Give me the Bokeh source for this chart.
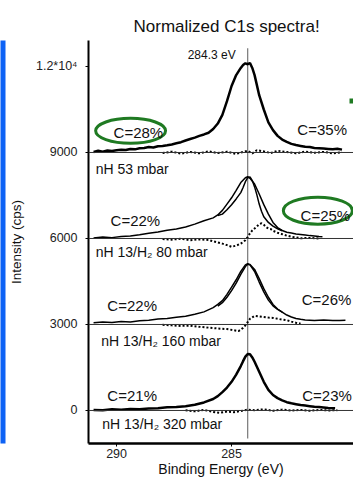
from bokeh.plotting import figure
from bokeh.models import Range1d, FixedTicker, Span, Label, ColorBar, LinearColorMapper
from bokeh.embed import file_html
from bokeh.resources import INLINE

# ---------------- data ----------------
title_text = "Normalized C1s spectra!"
y_ticks = [0, 3000, 6000, 9000, 12000]
y_tick_labels = ["0", "3000", "6000", "9000", "1.2*10⁴"]
x_ticks = [290, 285]
x_tick_labels = ["290", "285"]
peak_energy = [284.3]
peak_label = "284.3 eV"
offsets = [9000, 6000, 3000, 0]
sample_names = ["nH 53 mbar", "nH 13/H₂ 80 mbar", "nH 13/H₂ 160 mbar", "nH 13/H₂ 320 mbar"]
left_percent = ["C=28%", "C=22%", "C=22%", "C=21%"]
right_percent = ["C=35%", "C=25%", "C=26%", "C=23%"]

# spectrum 1 : nH 53 mbar (height above its baseline, cps)
e1 = [291.0, 290.8, 290.6, 290.4, 290.2, 290.0, 289.8, 289.6, 289.4, 289.2, 289.0, 288.8, 288.6, 288.4,
      288.2, 288.0, 287.8, 287.6, 287.4, 287.2, 287.0, 286.8, 286.6, 286.4, 286.2, 286.0, 285.8, 285.6,
      285.4, 285.2, 285.0, 284.8, 284.6, 284.5, 284.4, 284.3, 284.2, 284.1, 284.0, 283.9, 283.8, 283.6,
      283.4, 283.2, 283.0, 282.8, 282.6, 282.4, 282.2, 282.0, 281.8, 281.6, 281.4, 281.2, 281.0, 280.8,
      280.6, 280.4, 280.2]
h1 = [20, 60, 30, 70, 55, 80, 95, 85, 120, 110, 150, 160, 190, 175,
      215, 225, 250, 280, 320, 360, 420, 470, 520, 580, 630, 690, 820, 1010,
      1310, 1790, 2320, 2700, 2950, 3050, 3110, 3080, 3120, 2950, 2700, 2350, 2000, 1500,
      1050, 780, 580, 450, 370, 300, 260, 230, 200, 190, 160, 150, 140, 125,
      110, 130, 100]
d1e = [288.0, 287.6, 287.2, 286.8, 286.4, 286.0, 285.6, 285.2, 284.8, 284.5, 284.3, 284.1, 283.9, 283.6,
       283.3, 283.0, 282.6, 282.2, 281.8, 281.4, 281.0, 280.6, 280.2]
d1 = [-20, 30, -40, 20, -30, 40, -20, 30, -50, 20, 60, -30, 80, 40,
      -20, 60, 20, -30, 30, -10, 20, -30, 10]

# spectrum 2 : nH 13/H2 80 mbar
e2a = [291.0, 290.6, 290.2, 289.8, 289.4, 289.0, 288.6, 288.2, 287.8, 287.4, 287.0, 286.6, 286.2, 285.8,
       285.6, 285.4, 285.2, 285.0, 284.8, 284.6, 284.4, 284.3, 284.2, 284.0, 283.8, 283.6, 283.4, 283.2,
       283.0, 282.8, 282.6, 282.4, 282.2, 282.0, 281.8, 281.6, 281.4, 281.2, 281.05]
h2a = [20, 50, 30, 70, 90, 130, 180, 230, 290, 330, 400, 500, 620, 720,
       820, 980, 1200, 1420, 1680, 1950, 2120, 2160, 2100, 1900, 1550, 1180, 850, 560,
       380, 280, 220, 190, 160, 140, 120, 100, 90, 70, 60]
e2b = [285.6, 285.4, 285.2, 285.0, 284.8, 284.6, 284.5, 284.4, 284.3, 284.2, 284.1, 284.0, 283.9, 283.8,
       283.7, 283.6, 283.4, 283.2, 283.0, 282.8]
h2b = [800, 850, 1000, 1180, 1380, 1600, 1780, 1980, 2120, 2150, 2020, 1800, 1520, 1200,
       950, 760, 560, 430, 340, 270]
d2e = [288.0, 287.6, 287.2, 286.8, 286.4, 286.0, 285.8, 285.6, 285.4, 285.2, 285.0, 284.8, 284.6, 284.5,
       284.4, 284.3, 284.2, 284.1, 284.0, 283.9, 283.8, 283.7, 283.6, 283.5, 283.4, 283.3, 283.2, 283.0,
       282.8, 282.6, 282.4, 282.2, 282.0, 281.6, 281.2]
d2 = [-20, -40, -10, -60, -30, -50, -100, -140, -180, -230, -290, -250, -180, -120,
      -60, 50, 180, 280, 350, 420, 500, 530, 480, 400, 350, 330, 270, 200,
      150, 100, 60, 40, 10, 20, 0]

# spectrum 3 : nH 13/H2 160 mbar
e3a = [291.0, 290.6, 290.2, 289.8, 289.4, 289.0, 288.6, 288.2, 287.8, 287.4, 287.0, 286.6, 286.2, 285.8,
       285.6, 285.4, 285.2, 285.0, 284.8, 284.6, 284.4, 284.3, 284.2, 284.0, 283.8, 283.6, 283.4, 283.2,
       283.0, 282.8, 282.6, 282.4, 282.2, 282.0, 281.8, 281.6, 281.4, 281.0, 280.6, 280.3, 280.05]
h3a = [60, 90, 70, 100, 90, 130, 150, 190, 210, 250, 290, 360, 440, 590,
       700, 830, 1050, 1300, 1560, 1850, 2080, 2120, 2080, 1850, 1480, 1140, 850, 650,
       530, 430, 330, 260, 210, 180, 160, 150, 140, 160, 135, 140, 150]
e3b = [285.6, 285.4, 285.2, 285.0, 284.8, 284.6, 284.4, 284.3, 284.2, 284.0, 283.8, 283.6, 283.4, 283.2,
       283.0, 282.8]
h3b = [640, 760, 950, 1180, 1440, 1750, 2020, 2100, 2090, 1920, 1600, 1250, 950, 700,
       540, 430]
d3e = [288.0, 287.6, 287.2, 286.8, 286.4, 286.0, 285.6, 285.2, 284.9, 284.7, 284.6, 284.5, 284.4, 284.3,
       284.2, 284.0, 283.8, 283.6, 283.4, 283.2, 283.0, 282.8, 282.6, 282.4, 282.2, 282.0]
d3 = [-10, -30, -50, -40, -80, -110, -140, -160, -200, -230, -180, -120, -30, 80,
      200, 300, 280, 260, 240, 230, 200, 170, 150, 100, 60, 30]

# spectrum 4 : nH 13/H2 320 mbar
e4 = [291.0, 290.6, 290.2, 289.8, 289.4, 289.0, 288.6, 288.2, 287.8, 287.4, 287.0, 286.6, 286.2, 285.8,
      285.6, 285.4, 285.2, 285.0, 284.8, 284.6, 284.5, 284.4, 284.3, 284.2, 284.1, 284.0, 283.8, 283.6,
      283.4, 283.2, 283.0, 282.8, 282.6, 282.4, 282.2, 282.0, 281.8, 281.6, 281.4, 281.2, 281.0, 280.8,
      280.5]
h4 = [20, 10, 40, 25, 50, 45, 70, 80, 110, 120, 150, 200, 280, 400,
      500, 640, 800, 1000, 1250, 1550, 1720, 1880, 1970, 1960, 1850, 1700, 1350, 1000,
      720, 540, 430, 350, 290, 250, 220, 190, 170, 150, 130, 120, 105, 90,
      80]
d4e = [287.0, 286.6, 286.2, 285.8, 285.5, 285.2, 284.9, 284.6, 284.3, 284.0, 283.6, 283.2, 282.8, 282.4,
       282.0, 281.6, 281.2, 280.8, 280.4]
d4 = [10, -30, 20, -50, -80, -40, -60, -20, 30, 10, 40, -10, 30, 0,
      20, -10, 20, 0, 10]

mains = [(e1, h1), (e2a, h2a), (e3a, h3a), (e4, h4)]
inners = [None, (e2b, h2b), (e3b, h3b), None]
diffs = [(d1e, d1), (d2e, d2), (d3e, d3), (d4e, d4)]

# ---------------- figure ----------------
FONT = "Liberation Sans"
GREEN = "#1f7a22"
BLUE = "#0d62f5"

p = figure(width=353, height=480, output_backend="svg", toolbar_location=None,
           x_range=Range1d(291.22, 279.70), y_range=Range1d(-1152, 12907),
           min_border_left=88, min_border_right=0, min_border_top=40, min_border_bottom=37,
           title=title_text)
p.outline_line_color = None
p.background_fill_color = "white"
p.border_fill_color = "white"
p.grid.visible = False

p.title.text_font = FONT
p.title.text_font_size = "17px"
p.title.text_font_style = "normal"
p.title.text_color = "#111111"
p.title.align = "left"
p.title.offset = 45
p.title.standoff = 10

p.yaxis.ticker = FixedTicker(ticks=y_ticks)
p.yaxis.major_label_overrides = {t: l for t, l in zip(y_ticks, y_tick_labels)}
p.xaxis.ticker = FixedTicker(ticks=x_ticks)
p.xaxis.major_label_overrides = {t: l for t, l in zip(x_ticks, x_tick_labels)}
p.yaxis.axis_label = "Intensity (cps)"
p.xaxis.axis_label = "Binding Energy (eV)"
for ax in (p.xaxis, p.yaxis):
    ax.axis_line_color = "black"
    ax.major_tick_line_color = "black"
    ax.major_tick_in = 0
    ax.major_tick_out = 3
    ax.minor_tick_line_color = None
    ax.major_label_text_font = FONT
    ax.major_label_text_font_size = "12.5px"
    ax.major_label_text_color = "#222222"
    ax.axis_label_text_font = FONT
    ax.axis_label_text_font_style = "normal"
    ax.axis_label_text_color = "#111111"
p.yaxis.axis_line_width = 2
p.xaxis.axis_line_width = 2.5
p.yaxis.major_label_standoff = 8
p.xaxis.major_label_standoff = 2
p.yaxis.axis_label_text_font_size = "13.5px"
p.xaxis.axis_label_text_font_size = "14px"
p.yaxis.axis_label_standoff = 9
p.xaxis.axis_label_standoff = 0

# slide decoration: blue band at the left edge (a one-colour bar in the outer left panel)
band = ColorBar(color_mapper=LinearColorMapper(palette=[BLUE], low=0, high=1), width=5,
                padding=0, margin=0, ticker=FixedTicker(ticks=[]), major_label_text_font_size="0px",
                major_tick_line_color=None, minor_tick_line_color=None, bar_line_color=None,
                border_line_color=None, background_fill_color=None, label_standoff=0)
p.add_layout(band, "left")

# baselines
for off in offsets:
    p.add_layout(Span(location=off, dimension="width", line_color="#333333", line_width=1))

# reference line at the peak energy
p.segment(x0=peak_energy, y0=[-977], x1=peak_energy, y1=[12634], line_color="#777777", line_width=1.2)

# spectra
for off, (e, h), inner, (de, d) in zip(offsets, mains, inners, diffs):
    p.line(de, [v + off for v in d], line_color="black", line_width=2, line_dash="2 2")
    p.line(e, [v + off for v in h], line_color="black", line_width=2.5 if inner is None else 1.5)
    if inner is not None:
        ie, ih = inner
        p.line(ie, [v + off for v in ih], line_color="black", line_width=1.5)

# text labels
def lab(x, y, text, size):
    p.add_layout(Label(x=x, y=y, text=text, text_font=FONT, text_font_size=size,
                       text_baseline="middle", text_align="left", text_color="#111111"))

lab(286.91, 12390, peak_label, "12px")
left_pos = [(290.13, 713), (290.26, 631), (290.4, 665), (290.4, 524)]
right_pos = [(282.14, 797), (282.0, 806), (281.95, 863), (281.93, 524)]
name_pos = [(290.91, -589), (290.91, -475), (290.67, -592), (290.62, -464)]
for off, t, (x, dy) in zip(offsets, left_percent, left_pos):
    lab(x, off + dy, t, "15px")
for off, t, (x, dy) in zip(offsets, right_percent, right_pos):
    lab(x, off + dy, t, "15px")
for off, t, (x, dy) in zip(offsets, sample_names, name_pos):
    lab(x, off + dy, t, "14px")

# green highlight ellipses
p.ellipse(x=[289.39, 281.25], y=[9755, 6970], width=[3.04, 3.0], height=[872, 942],
          fill_color=None, line_color=GREEN, line_width=3)

# green dash at the top right
p.add_layout(Label(x=349, y=98, x_units="canvas", y_units="canvas", text=" ", text_font_size="1px",
                   text_align="left", text_baseline="top", background_fill_color=GREEN,
                   background_fill_alpha=1, padding=(4, 2)))

open("out.html", "w").write(file_html(p, INLINE))
